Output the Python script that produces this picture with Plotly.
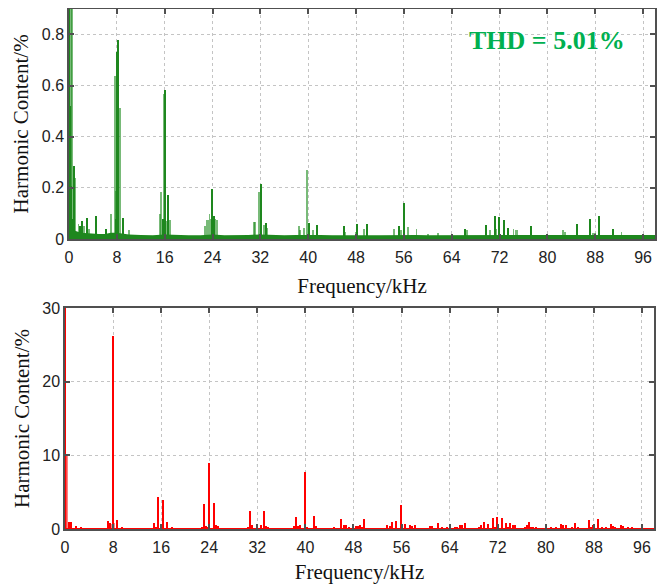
import plotly.graph_objects as go

# ---------------- data ----------------
# Top spectrum (THD = 5.01%), harmonic content in %
top_dark_freq = [0.05, 0.15, 0.4, 0.85, 0.6, 1.9, 2.1, 2.95, 4.45, 6.2,
                 7.97, 8.25, 7.85, 9.05,
                 16.1, 16.6, 15.7,
                 23.97, 24.2,
                 32.05, 33.0,
                 40.1, 41.4,
                 46.0, 48.1, 49.8,
                 55.97, 55.2,
                 66.2, 69.7, 71.2, 71.95, 72.7, 73.4, 77.3,
                 84.9, 87.2, 88.7, 90.9]
top_dark_amp = [100.0, 0.52, 0.21, 0.285, 0.08, 0.05, 0.07, 0.085, 0.09, 0.04,
                0.73, 0.78, 0.08, 0.085,
                0.585, 0.172, 0.08,
                0.197, 0.09,
                0.217, 0.064,
                0.062, 0.055,
                0.05, 0.06, 0.06,
                0.143, 0.05,
                0.042, 0.055, 0.09, 0.087, 0.074, 0.044, 0.05,
                0.058, 0.078, 0.09, 0.042]

top_light_freq = [0.1, 0.3, 0.45, 0.25, 1.1, 1.6, 2.5, 3.3, 7.0,
                  7.64, 7.9, 8.5, 9.98,
                  15.16, 15.4, 15.83, 16.3, 16.95,
                  22.7, 23.0, 23.3, 23.5, 23.75, 24.5, 24.75,
                  30.9, 31.1, 31.8, 32.6, 33.2,
                  38.4, 38.6, 39.35, 39.85, 40.85,
                  46.25, 47.9, 49.3,
                  54.4, 55.5, 56.75, 58.1, 60.1, 61.7,
                  66.5, 70.4, 71.4, 74.35, 74.7, 75.0,
                  82.6, 82.9, 87.6, 87.9, 92.4]
top_light_amp = [1.0, 1.0, 1.0, 0.26, 0.24, 0.06, 0.05, 0.04, 0.097,
                 0.64, 0.19, 0.515, 0.035,
                 0.1, 0.185, 0.567, 0.07, 0.075,
                 0.05, 0.075, 0.075, 0.1, 0.08, 0.08, 0.075,
                 0.068, 0.068, 0.185, 0.055, 0.045,
                 0.05, 0.035, 0.043, 0.272, 0.035,
                 0.03, 0.03, 0.04,
                 0.042, 0.035, 0.046, 0.039, 0.02, 0.025,
                 0.035, 0.035, 0.04, 0.04, 0.038, 0.035,
                 0.038, 0.03, 0.025, 0.025, 0.03]

top_floor_freq = [0, 1, 2, 3, 4, 5, 6, 7, 8, 9, 10, 12, 14, 16, 18, 20, 22, 24,
                  26, 28, 30, 32, 34, 36, 38, 40, 42, 44, 46, 48, 50, 52, 54,
                  56, 58, 60, 62, 64, 66, 68, 70, 72, 74, 76, 78, 80, 82, 84,
                  86, 88, 90, 92, 94, 96, 98]
top_floor_amp = [0.045, 0.032, 0.024, 0.022, 0.021, 0.02, 0.02, 0.024, 0.024, 0.021,
                 0.018, 0.016, 0.015, 0.018, 0.016, 0.015, 0.015, 0.018,
                 0.015, 0.015, 0.016, 0.018, 0.016, 0.015, 0.016, 0.017, 0.016,
                 0.015, 0.016, 0.016, 0.015, 0.015, 0.016, 0.017, 0.016, 0.015,
                 0.015, 0.015, 0.016, 0.015, 0.016, 0.017, 0.016, 0.015, 0.016,
                 0.015, 0.015, 0.016, 0.015, 0.016, 0.016, 0.015, 0.015, 0.015, 0.016]

# Bottom spectrum, harmonic content in %
bot_freq = [0.05, 0.6, 1.05, 1.83, 2.6,
            7.14, 7.53, 8.0, 8.69, 9.45,
            14.84, 15.2, 15.5, 15.9, 16.33, 17.05, 17.8,
            22.8, 23.2, 23.5, 23.7, 23.92, 24.75, 25.1, 25.45,
            30.45, 30.84, 31.2, 32.7, 33.06, 33.5, 33.8,
            38.1, 38.42, 38.75, 39.1, 39.92, 40.25, 41.42, 41.75,
            44.7, 46.0, 46.4, 46.8, 47.2, 48.4, 48.8, 49.1, 49.5, 49.8,
            53.55, 54.0, 54.4, 55.15, 55.93, 56.65, 57.4, 57.8, 58.2,
            60.8, 61.1, 62.0, 62.8, 63.5, 64.9, 65.2, 65.7, 66.0, 66.5,
            68.9, 69.2, 69.66, 70.4, 71.2, 71.5, 71.93, 72.64, 73.37, 73.7,
            74.1, 74.5, 74.9, 76.5, 76.8, 77.2, 77.6, 77.9, 78.3,
            80.9, 81.7, 82.5, 82.9, 83.3, 84.4, 84.9, 85.3,
            87.2, 87.6, 87.9, 88.7, 89.4, 90.1, 90.9, 91.2, 91.6, 92.5,
            92.9, 93.6, 94.4]
bot_amp = [100.0, 0.9, 0.9, 0.4, 0.2,
           1.1, 0.8, 26.2, 1.2, 0.2,
           0.77, 0.3, 4.34, 0.5, 4.0, 0.95, 0.25,
           0.3, 3.35, 0.4, 0.3, 8.9, 3.53, 0.5, 0.4,
           0.3, 2.44, 0.6, 0.5, 2.44, 0.4, 0.3,
           0.4, 1.67, 0.4, 0.5, 7.7, 0.3, 1.81, 0.4,
           0.2, 1.3, 0.5, 0.6, 0.3, 0.4, 0.4, 0.5, 0.3, 1.3,
           0.55, 0.4, 0.9, 1.1, 3.25, 0.7, 0.5, 0.45, 0.6,
           0.45, 0.45, 0.77, 0.3, 0.2, 0.2, 0.3, 0.55, 0.55, 0.77,
           0.3, 0.5, 1.0, 0.68, 1.54, 0.3, 1.67, 1.45, 0.77, 0.3,
           0.86, 0.55, 0.55, 0.3, 0.5, 0.95, 0.3, 0.3, 0.2,
           0.2, 0.3, 0.68, 0.5, 0.5, 0.3, 0.77, 0.2,
           1.22, 0.3, 0.55, 1.31, 0.3, 0.2, 0.68, 0.45, 0.3, 0.59,
           0.35, 0.2, 0.15]
bot_light_freq = [0.22, 0.35, 8.25, 7.8]
bot_light_amp = [10.0, 9.9, 0.8, 0.7]

bot_floor_freq = [0, 10, 20, 30, 40, 50, 60, 70, 80, 90, 98]
bot_floor_amp = [0.12, 0.12, 0.12, 0.12, 0.12, 0.12, 0.12, 0.12, 0.12, 0.12, 0.12]

x_ticks = [0, 8, 16, 24, 32, 40, 48, 56, 64, 72, 80, 88, 96]
top_y_ticks = [0, 0.2, 0.4, 0.6, 0.8]
top_y_labels = ["0", "0.2", "0.4", "0.6", "0.8"]
bot_y_ticks = [0, 10, 20, 30]

# ---------------- figure ----------------
# The page body has an 8 px margin, so the figure is 662x576 and every
# target pixel position (X, Y) maps to (X - 8, Y - 8) inside the figure.
W, H = 662, 576
OFF = 8
GREEN = "rgb(30,135,30)"
GREEN_L = "rgba(30,140,30,0.6)"
RED = "rgb(255,0,0)"
RED_L = "rgba(255,30,30,0.55)"


def px_x(X):
    return (X - OFF) / W


def px_y(Y):
    return 1 - (Y - OFF) / H


fig = go.Figure()

fig.add_trace(go.Scatter(x=top_floor_freq, y=top_floor_amp, mode="lines",
                         line=dict(width=0, color=GREEN), fill="tozeroy",
                         fillcolor=GREEN, xaxis="x", yaxis="y", showlegend=False,
                         hoverinfo="skip"))
fig.add_trace(go.Bar(x=top_light_freq, y=top_light_amp, width=0.3,
                     marker=dict(color=GREEN_L, line=dict(width=0)),
                     xaxis="x", yaxis="y", showlegend=False))
fig.add_trace(go.Bar(x=top_dark_freq, y=top_dark_amp, width=0.17,
                     marker=dict(color=GREEN, line=dict(width=0)),
                     xaxis="x", yaxis="y", showlegend=False))

fig.add_trace(go.Scatter(x=bot_floor_freq, y=bot_floor_amp, mode="lines",
                         line=dict(width=0, color=RED), fill="tozeroy",
                         fillcolor=RED, xaxis="x2", yaxis="y2", showlegend=False,
                         hoverinfo="skip"))
fig.add_trace(go.Bar(x=bot_light_freq, y=bot_light_amp, width=0.25,
                     marker=dict(color=RED_L, line=dict(width=0)),
                     xaxis="x2", yaxis="y2", showlegend=False))
fig.add_trace(go.Bar(x=bot_freq, y=bot_amp, width=0.18,
                     marker=dict(color=RED, line=dict(width=0)),
                     xaxis="x2", yaxis="y2", showlegend=False))

tick_font = dict(family="Liberation Sans, Arial", size=16, color="#222")
title_font = dict(family="Liberation Serif, Times New Roman", size=21, color="#111")
AXC = "#505050"
GRIDC = "#c4c4c4"


def xaxis_common(domain, anchor, standoff):
    return dict(domain=domain, anchor=anchor, range=[0, 98], tickvals=x_ticks,
                ticks="inside", ticklen=5, tickwidth=1.5, tickcolor=AXC,
                showline=True, linecolor=AXC, linewidth=1.5, mirror="allticks",
                showgrid=True, gridcolor=GRIDC, griddash="dot", gridwidth=1,
                zeroline=False, tickfont=tick_font, automargin=False,
                ticklabelstandoff=3,
                title=dict(text="Frequency/kHz", font=title_font, standoff=standoff))


def yaxis_common(domain, anchor, rng, tv, tt):
    return dict(domain=domain, anchor=anchor, range=rng, tickvals=tv, ticktext=tt,
                ticks="inside", ticklen=5, tickwidth=1.5, tickcolor=AXC,
                showline=True, linecolor=AXC, linewidth=1.5, mirror="allticks",
                showgrid=True, gridcolor=GRIDC, griddash="dot", gridwidth=1,
                zeroline=False, tickfont=tick_font, automargin=False,
                title=dict(text="Harmonic Content/%", font=title_font, standoff=7))


fig.update_layout(
    width=W, height=H,
    margin=dict(l=0, r=0, t=0, b=0, autoexpand=False),
    paper_bgcolor="white", plot_bgcolor="white",
    barmode="overlay", bargap=0,
    xaxis=xaxis_common([px_x(69), px_x(655)], "y", 13),
    yaxis=yaxis_common([px_y(239), 1 - 0.75 / H], "x", [0, 0.9],
                       top_y_ticks, top_y_labels),
    xaxis2=xaxis_common([px_x(65), px_x(654)], "y2", 9),
    yaxis2=yaxis_common([px_y(529), px_y(308)], "x2", [0, 30],
                        bot_y_ticks, [str(v) for v in bot_y_ticks]),
    annotations=[dict(text="<b>THD = 5.01%</b>", xref="paper", yref="paper",
                      x=px_x(547), y=px_y(40), xanchor="center", yanchor="middle",
                      showarrow=False,
                      font=dict(family="Liberation Serif, Times New Roman",
                                size=26, color="#00B050"))],
)

fig.write_html("out.html")
